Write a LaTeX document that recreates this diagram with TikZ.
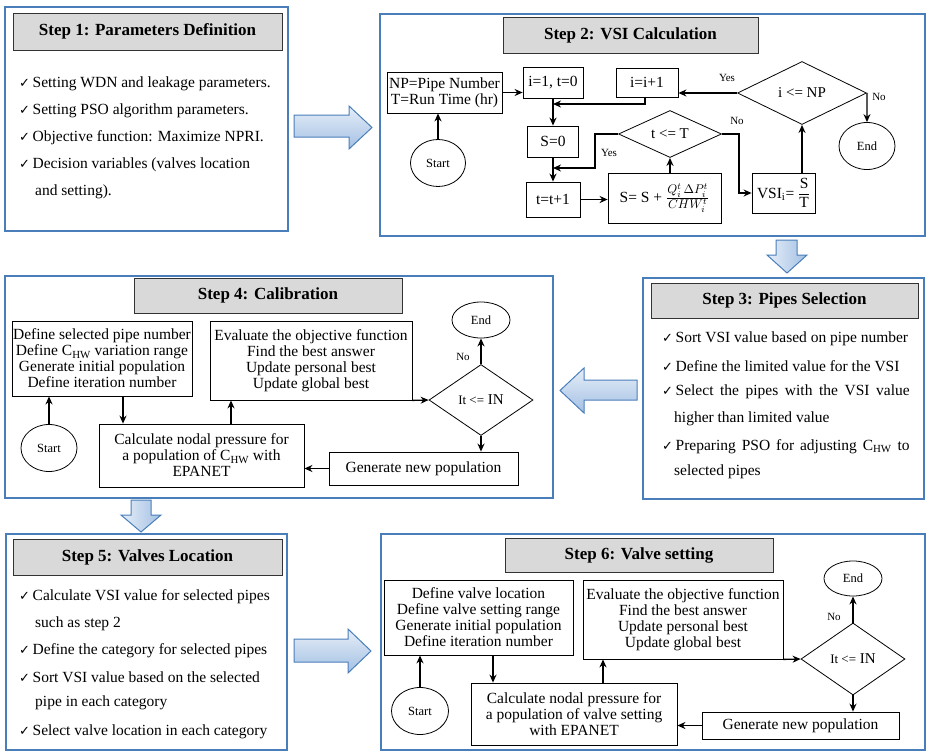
\documentclass[tikz,border=0pt]{standalone}
\usepackage{fontspec}
\usepackage{graphicx}
\setmainfont{Liberation Serif}
\newfontfamily\chkfont{DejaVu Sans}
\usetikzlibrary{shapes.geometric,arrows.meta}
\definecolor{panelblue}{HTML}{4A7EBB}
\definecolor{headgray}{HTML}{D9D9D9}
\definecolor{arrlight}{HTML}{E6EEF8}
\definecolor{arrdark}{HTML}{A3C0E3}
\newcommand{\chk}{{\chkfont\fontsize{13}{14}\selectfont ✓}\,}

\tikzset{
  panel/.style={draw=panelblue, line width=1.3pt},
  head/.style={draw=black!80, fill=headgray, line width=0.8pt, inner sep=0pt,
    font=\fontsize{17}{20}\selectfont\bfseries},
  proc/.style={draw, line width=0.8pt, align=center, inner sep=0pt,
    font=\fontsize{15.5}{16}\selectfont},
  term/.style={draw, ellipse, line width=0.8pt, inner sep=0pt,
    font=\fontsize{12.5}{14}\selectfont},
  cond/.style={draw, diamond, shape aspect=2, line width=0.8pt, inner sep=0pt,
    font=\fontsize{15}{16}\selectfont},
  lbl/.style={inner sep=0pt, font=\fontsize{11}{12}\selectfont},
  item/.style={anchor=west, inner sep=0pt, font=\fontsize{15.5}{18}\selectfont},
  arr/.style={-{Stealth[length=8pt,width=7pt]}, line width=1.3pt},
  barrow/.style={draw=panelblue, line width=1pt, top color=arrlight, bottom color=arrdark},
  barrowv/.style={draw=panelblue, line width=1pt, left color=arrlight, right color=arrdark},
}

\begin{document}
\begin{tikzpicture}[x=1pt,y=-1pt]
\useasboundingbox (0,0) rectangle (927,752);

% panels
\draw[panel] (5,7) rectangle (288,231);
\draw[panel] (380,14) rectangle (925,236);
\draw[panel] (643,278) rectangle (924,499);
\draw[panel] (5,276) rectangle (553,498);
\draw[panel] (6,534) rectangle (287,750);
\draw[panel] (381,534) rectangle (925,750);

% block arrows between steps
\draw[barrow] (294,115) -- (349,115) -- (349,106) -- (372,127.5) -- (349,149) -- (349,137) -- (294,137) -- cycle;
\draw[barrowv] (776,240) -- (797,240) -- (797,255) -- (807,255) -- (787,273) -- (767,255) -- (776,255) -- cycle;
\draw[barrow] (637,380) -- (584,380) -- (584,368) -- (560,390.5) -- (584,413) -- (584,400) -- (637,400) -- cycle;
\draw[barrowv] (131,500) -- (151,500) -- (151,515) -- (161,515) -- (141,532) -- (121,515) -- (131,515) -- cycle;
\draw[barrow] (294,639) -- (348,639) -- (348,629) -- (371,651) -- (348,673) -- (348,662) -- (294,662) -- cycle;

% Step 1
\node[head, minimum width=269pt, minimum height=37pt] (h1) at (147.5,31.5) {Step 1: Parameters Definition};
\node[item] (s1a) at (19,84) {\chk Setting WDN and leakage parameters.};
\node[item] (s1b) at (19,111) {\chk Setting PSO algorithm parameters.};
\node[item] (s1c) at (19,138) {\chk Objective function: Maximize NPRI.};
\node[item] (s1d) at (19,165) {\chk Decision variables (valves location};
\node[item] (s1e) at (35,192) {and setting).};

% Step 2
\node[head, minimum width=255pt, minimum height=36pt] (h2) at (630.5,35) {Step 2: VSI Calculation};
\node[proc, minimum width=115pt, minimum height=41pt] (np) at (444.5,92.5) {NP=Pipe Number\\T=Run Time (hr)};
\node[term, minimum width=55pt, minimum height=47pt] (start2) at (438,163) {Start};
\node[proc, minimum width=60pt, minimum height=31pt] (i1) at (553,82.5) {i=1, t=0};
\node[proc, minimum width=62pt, minimum height=29pt] (inc) at (647,82.5) {i=i+1};
\node[cond, minimum width=129pt, minimum height=63pt] (dnp) at (802,93) {i <= NP};
\node[term, minimum width=56pt, minimum height=47pt] (endA) at (867,146) {End};
\node[proc, minimum width=51pt, minimum height=31pt] (s0) at (553,141.5) {S=0};
\node[proc, minimum width=54pt, minimum height=35pt] (tt) at (553,199.5) {t=t+1};
\node[cond, minimum width=103pt, minimum height=47pt] (dt) at (670,134) {t <= T};
\node[proc, minimum width=113pt, minimum height=50pt] (sf) at (664.5,198) {S= S + \scalebox{1.15}{$\frac{Q_i^t\,\Delta P_i^t}{CHW_i^t}$}};
\node[proc, minimum width=63pt, minimum height=40pt] (vsi) at (783.5,193) {VSI\textsubscript{i}= $\displaystyle\frac{\mathrm{S}}{\mathrm{T}}$};
\coordinate (j1) at (553,104);
\coordinate (j2) at (553,168);
\draw[arr] (start2.north) -- (start2.north |- np.south);
\draw[arr] (np.east) -- (np.east -| i1.west);
\draw[arr] (i1.south) -- (s0.north);
\draw[arr] ([xshift=-2pt]inc.south) |- (j1);
\draw[arr] (s0.south) -- (tt.north);
\draw[arr] (tt.east) -- (tt.east -| sf.west);
\draw[arr] (dt.south |- sf.north) -- (dt.south);
\draw[arr] (dt.west) -- ++(-23,0) |- (j2);
\draw[arr] (dt.east) -- ++(17,0) |- (vsi.west);
\draw[arr] (dnp.south |- vsi.north) -- (dnp.south);
\draw[arr] (dnp.west) -- (dnp.west -| inc.east);
\draw[arr] (dnp.east) -- (endA.north);
\node[lbl] (yes1) at (727,78) {Yes};
\node[lbl] (no1) at (879,97) {No};
\node[lbl] (yes2) at (609,153) {Yes};
\node[lbl] (no2) at (737,121) {No};

% Step 3
\node[head, minimum width=267pt, minimum height=35pt] (h3) at (784.5,300.5) {Step 3: Pipes Selection};
\node[item] (s3a) at (662,339) {\chk Sort VSI value based on pipe number};
\node[item] (s3b) at (662,366) {\chk Define the limited value for the VSI};
\node[item] (s3c) at (662,392) {\chk\makebox[234pt][s]{Select the pipes with the VSI value}};
\node[item] (s3d) at (674,419) {higher than limited value};
\node[item] (s3e) at (662,447) {\chk\makebox[234pt][s]{Preparing PSO for adjusting C\textsubscript{HW} to}};
\node[item] (s3f) at (674,472) {selected pipes};

% Step 4
\node[head, minimum width=268pt, minimum height=35pt] (h4) at (268,295.5) {Step 4: Calibration};
\node[proc, minimum width=180pt, minimum height=75pt] (b4a) at (102,358.5) {Define selected pipe number\\Define C\textsubscript{HW} variation range\\Generate initial population\\Define iteration number};
\node[proc, minimum width=202pt, minimum height=79pt] (b4b) at (311,360.5) {Evaluate the objective function\\Find the best answer\\Update personal best\\Update global best};
\node[term, minimum width=56pt, minimum height=47pt] (st4) at (49,448) {Start};
\node[proc, minimum width=205pt, minimum height=63pt] (calc4) at (201.5,455.5) {Calculate nodal pressure for\\a population of C\textsubscript{HW} with\\EPANET};
\node[cond, minimum width=104pt, minimum height=71pt] (d4) at (481,400) {{\fontsize{13}{15}\selectfont It <=} IN};
\node[term, minimum width=58pt, minimum height=36pt] (end4) at (481,320) {End};
\node[proc, minimum width=189pt, minimum height=33pt] (gen4) at (423.5,468.5) {Generate new population};
\draw[arr] (st4.north) -- (st4.north |- b4a.south);
\draw[arr] ([xshift=21pt]b4a.south) -- ([xshift=21pt]b4a.south |- calc4.north);
\draw[arr] ([xshift=29.5pt]calc4.north) -- ([xshift=29.5pt]calc4.north |- b4b.south);
\draw[arr] (b4b.south east) -- (d4.west);
\draw[arr] (d4.north) -- (end4.south);
\draw[arr] (d4.south) -- (d4.south |- gen4.north);
\draw[arr] (gen4.west) -- (gen4.west -| calc4.east);
\node[lbl] (no4) at (463,357) {No};

% Step 5
\node[head, minimum width=269pt, minimum height=36pt] (h5) at (147.5,557) {Step 5: Valves Location};
\node[item] (s5a) at (19,597) {\chk Calculate VSI value for selected pipes};
\node[item] (s5b) at (35,624) {such as step 2};
\node[item] (s5c) at (19,651) {\chk Define the category for selected pipes};
\node[item] (s5d) at (19,677) {\chk Sort VSI value based on the selected};
\node[item] (s5e) at (35,703) {pipe in each category};
\node[item] (s5f) at (19,732) {\chk Select valve location in each category};

% Step 6
\node[head, minimum width=268pt, minimum height=34pt] (h6) at (639,555) {Step 6: Valve setting};
\node[proc, minimum width=189pt, minimum height=75pt] (b6a) at (478.5,617.5) {Define valve location\\Define valve setting range\\Generate initial population\\Define iteration number};
\node[proc, minimum width=200pt, minimum height=79pt] (b6b) at (683,619.5) {Evaluate the objective function\\Find the best answer\\Update personal best\\Update global best};
\node[term, minimum width=57pt, minimum height=47pt] (st6) at (420,711) {Start};
\node[proc, minimum width=206pt, minimum height=62pt] (calc6) at (574,714) {Calculate nodal pressure for\\a population of valve setting\\with EPANET};
\node[cond, minimum width=104pt, minimum height=72pt] (d6) at (853,659) {{\fontsize{13}{15}\selectfont It <=} IN};
\node[term, minimum width=58pt, minimum height=35pt] (end6) at (853,578.5) {End};
\node[proc, minimum width=197pt, minimum height=27pt] (gen6) at (800.5,725.5) {Generate new population};
\draw[arr] (st6.north) -- (st6.north |- b6a.south);
\draw[arr] ([xshift=14.5pt]b6a.south) -- ([xshift=14.5pt]b6a.south |- calc6.north);
\draw[arr] ([xshift=29pt]calc6.north) -- ([xshift=29pt]calc6.north |- b6b.south);
\draw[arr] (b6b.south east) -- (d6.west);
\draw[arr] (d6.north) -- (end6.south);
\draw[arr] (d6.south) -- (gen6.north -| d6.south);
\draw[arr] (gen6.west) -- (gen6.west -| calc6.east);
\node[lbl] (no6) at (834,617) {No};
\end{tikzpicture}
\end{document}
